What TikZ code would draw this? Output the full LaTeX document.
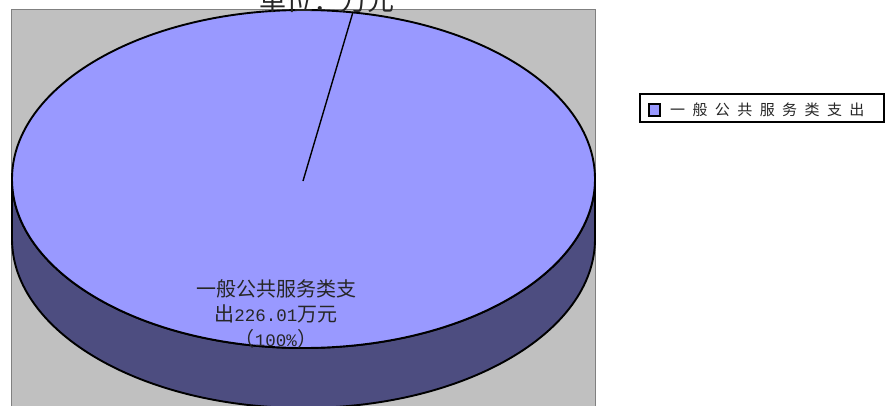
\documentclass[tikz,border=0pt]{standalone}
\usepackage{fontspec}
\newfontfamily\cjk{Noto Sans CJK SC}
\newfontfamily\monofnt{Liberation Mono}
\definecolor{face}{HTML}{9999FF}
\definecolor{side}{HTML}{4D4D80}
\definecolor{plotbg}{HTML}{C0C0C0}
\definecolor{plotedge}{HTML}{808080}
\newcommand\lgap{\hspace{7.4pt}}
\newcommand\dg[1]{{\monofnt\fontsize{17.5}{20}\selectfont #1}}
\begin{document}
\begin{tikzpicture}[x=1pt,y=-1pt,
  pieline/.style={draw=black,line width=1.9pt,line join=round},
  lbltext/.style={font=\cjk\fontsize{20}{25}\selectfont,align=center,inner sep=0pt,text=black!85},
  legtext/.style={font=\cjk\fontsize{15}{15}\selectfont,inner sep=0pt,text=black!85}]
\useasboundingbox (0,0) rectangle (886,405);
\clip (0,0) rectangle (886,405);
\fill[white] (0,0) rectangle (886,405);
% plot area
\filldraw[fill=plotbg,draw=plotedge,line width=1pt] (11,9) rectangle (595,430);
% pie side
\filldraw[pieline,fill=side] (12,179) -- (12,239)
  arc[start angle=180,end angle=0,x radius=291.5,y radius=169]
  -- (595,179)
  arc[start angle=0,end angle=180,x radius=291.5,y radius=169] -- cycle;
% pie top
\filldraw[pieline,fill=face] (303.5,179) ellipse[x radius=291.5,y radius=169];
% leader line
\coordinate (c) at (303,181);
\coordinate (lt) at (353,12);
\draw[line width=1.4pt] (c) -- (lt);
% title
\node[font=\cjk\fontsize{27}{27}\selectfont,anchor=base,inner sep=0pt,text=black!85] (title) at (327,10) {单位：万元};
% slice label
\node[lbltext] (lbl) at (276,314) {一般公共服务类支\\出\dg{226.01}万元\\（\dg{100\%}）};
% legend
\draw[black,line width=1.4pt,fill=white] (640,94) rectangle (884,122);
\filldraw[fill=face,draw=black,line width=1.4pt] (649,104) rectangle (660,116);
\node[legtext,anchor=west] (leg) at (670,110) {一\lgap 般\lgap 公\lgap 共\lgap 服\lgap 务\lgap 类\lgap 支\lgap 出};
\end{tikzpicture}
\end{document}
